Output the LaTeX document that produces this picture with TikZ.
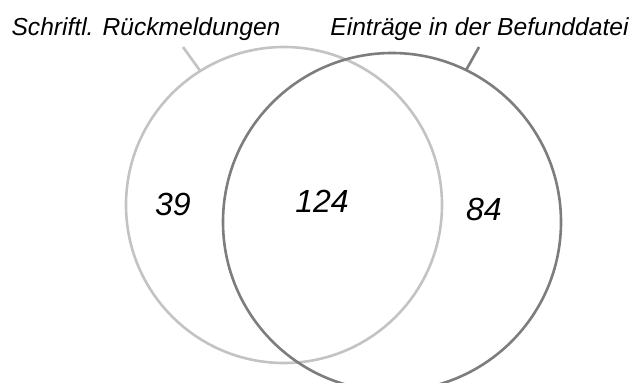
\documentclass[tikz,border=0pt]{standalone}
\usepackage{fontspec}
\setmainfont{Liberation Sans}
\usepackage{tikz}
\usetikzlibrary{positioning}

\begin{document}
\begin{tikzpicture}[x=1pt,y=-1pt,
	setcircle/.style={circle,outer sep=0pt,line width=2.6pt},
	settitle/.style={anchor=base,font=\fontsize{24.6}{30}\selectfont\itshape},
	setcount/.style={font=\fontsize{32}{38}\selectfont\itshape}]
		\useasboundingbox (0,0) rectangle (633,383);
		\node[setcircle,draw={rgb,255:red,195;green,195;blue,195},minimum size=316pt] (rueck) at (284,205) {};
		\node[setcircle,draw={rgb,255:red,125;green,125;blue,125},minimum size=338pt] (befund) at (392,222) {};
		\node[settitle] (ruecktitle) at (146,35) {Schriftl. Rückmeldungen};
		\node[settitle] (befundtitle) at (479.5,35) {Einträge in der Befunddatei};
		\coordinate (rueckend) at (183,47);
		\coordinate (befundend) at (479,47);
		\draw[line width=2.6pt,color={rgb,255:red,195;green,195;blue,195}] (rueck.122)--(rueckend);
		\draw[line width=2.6pt,color={rgb,255:red,125;green,125;blue,125}] (befund.64.5)--(befundend);
		\node[setcount] (only1) at (173,204) {39};
		\node[setcount] (both) at (322,201) {124};
		\node[setcount] (only2) at (484,209) {84};
	\end{tikzpicture}
\end{document}
